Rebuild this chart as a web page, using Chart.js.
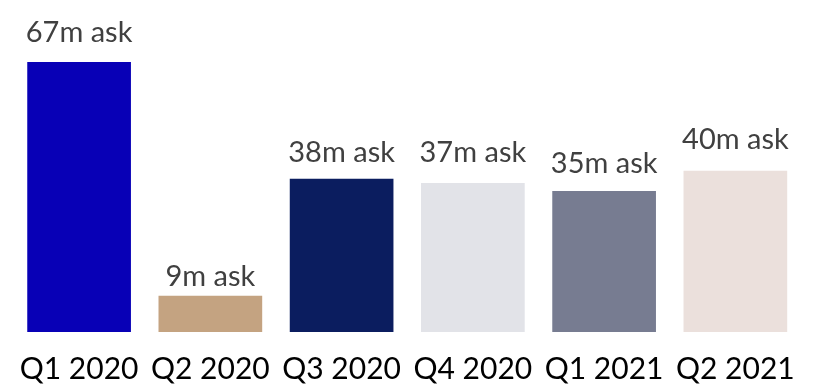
<!DOCTYPE html>
<html>
<head>
<meta charset="utf-8">
<script src="https://cdn.jsdelivr.net/npm/chart.js@4/dist/chart.umd.min.js"></script>
<style>
html,body{margin:0;padding:0;background:#fff;}
#wrap{width:821px;height:391px;position:relative;}
</style>
</head>
<body>
<div id="wrap"><canvas id="c"></canvas></div>
<script>
const categories = ["Q1 2020","Q2 2020","Q3 2020","Q4 2020","Q1 2021","Q2 2021"];
const askValues = [67, 9, 38, 37, 35, 40];
const valueLabels = ["67m ask","9m ask","38m ask","37m ask","35m ask","40m ask"];
const barColors = ["#0800B6","#C4A381","#0B1D5F","#E2E3E8","#777C91","#EBE0DC"];

const labelPlugin = {
  id: 'valueLabels',
  afterDatasetsDraw(chart) {
    const gaps = [20, 10, 17, 21, 18, 22];
    const ctx = chart.ctx;
    const meta = chart.getDatasetMeta(0);
    ctx.save();
    ctx.font = '29px Lato, "Open Sans", sans-serif';
    ctx.fillStyle = '#404040';
    ctx.textAlign = 'center';
    ctx.textBaseline = 'alphabetic';
    meta.data.forEach((bar, i) => {
      ctx.fillText(valueLabels[i], bar.x, bar.y - gaps[i]);
    });
    ctx.restore();
  }
};

new Chart(document.getElementById('c'), {
  type: 'bar',
  data: {
    labels: categories,
    datasets: [{
      data: askValues,
      backgroundColor: barColors,
      borderWidth: 0,
      barPercentage: 0.79,
      categoryPercentage: 1.0
    }]
  },
  options: {
    responsive: true,
    maintainAspectRatio: false,
    animation: false,
    layout: { padding: { top: 62, left: 9, right: 20, bottom: 0 } },
    plugins: { legend: { display: false }, tooltip: { enabled: false } },
    scales: {
      x: {
        grid: { display: false, drawTicks: false },
        border: { display: false },
        afterFit(scale) { scale.height = 59; },
        ticks: {
          color: '#000',
          font: { family: 'Lato, "Open Sans", sans-serif', size: 30 },
          padding: 19,
          maxRotation: 0,
          autoSkip: false
        }
      },
      y: {
        display: false,
        min: 0,
        max: 67
      }
    }
  },
  plugins: [labelPlugin]
});
</script>
</body>
</html>
